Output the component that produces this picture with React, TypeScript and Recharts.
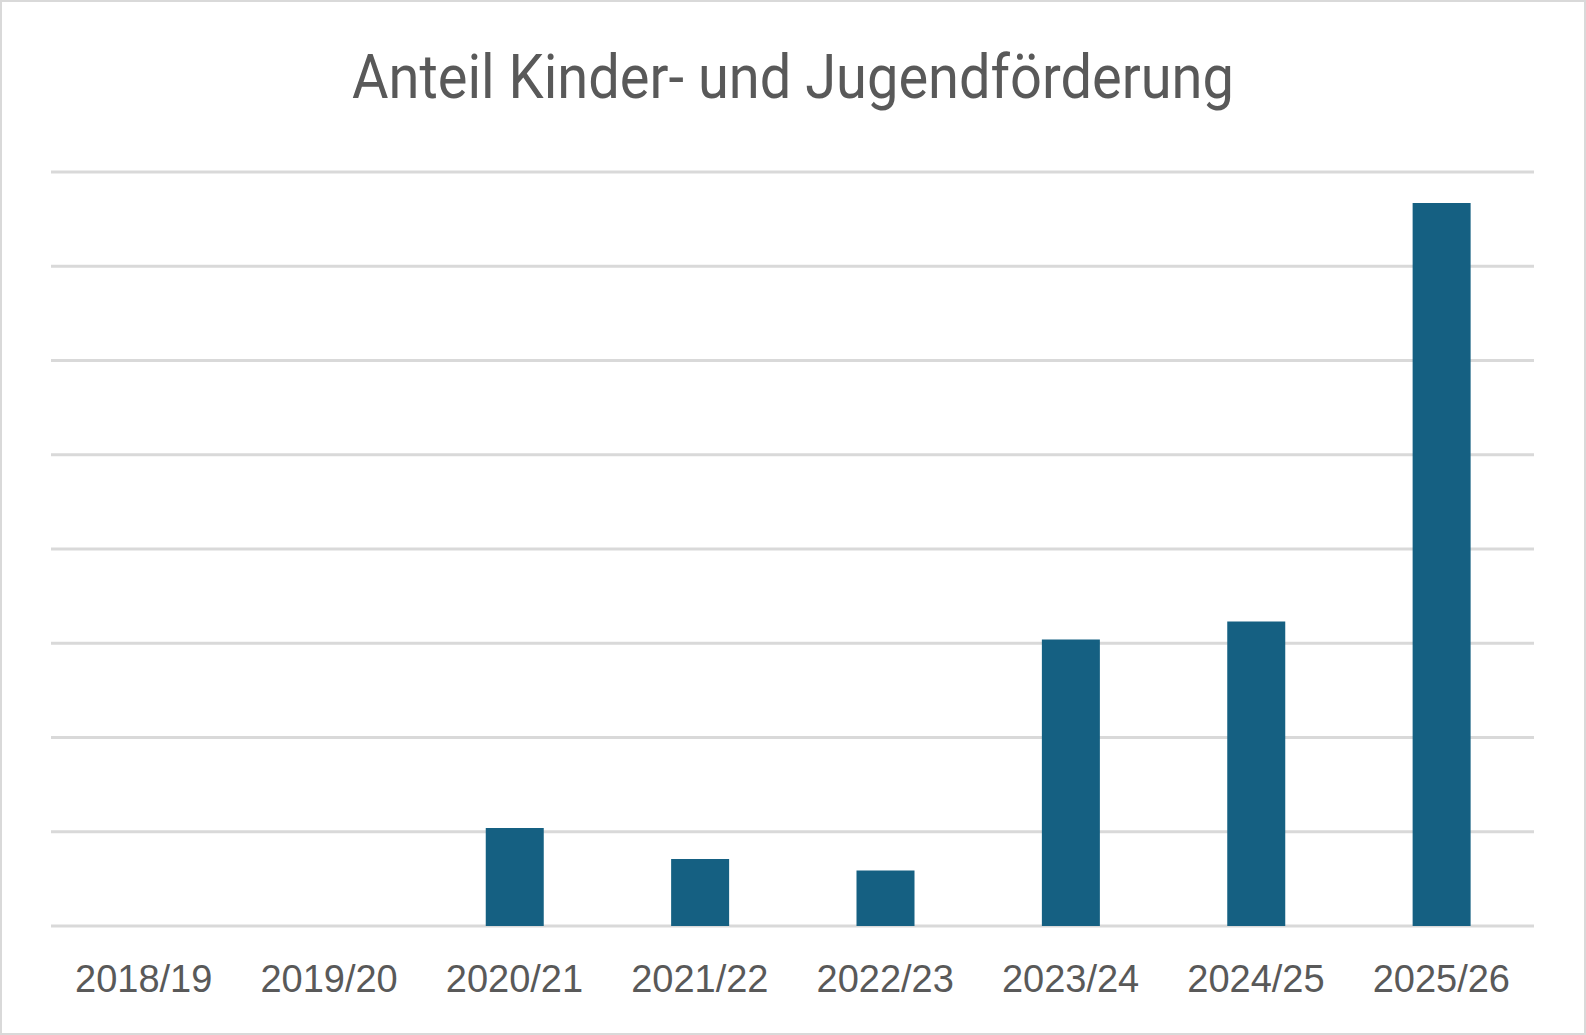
import { BarChart, Bar, XAxis, YAxis, CartesianGrid } from "recharts";

const TITLE = "Anteil Kinder- und Jugendförderung";

const YEARS = [
  "2018/19",
  "2019/20",
  "2020/21",
  "2021/22",
  "2022/23",
  "2023/24",
  "2024/25",
  "2025/26",
];

const SHARE = [0, 0, 1.04, 0.71, 0.59, 3.04, 3.23, 7.67];

const GRID_TICKS = [0, 1, 2, 3, 4, 5, 6, 7, 8];

const data = YEARS.map((year, i) => ({ year, value: SHARE[i] }));

const W = 1586;
const H = 1035;

export default function App() {
  return (
    <div style={{ position: "absolute", left: 0, top: 0, width: W, height: H, background: "#fff" }}>
      <svg width={W} height={120} style={{ position: "absolute", left: 0, top: 0 }}>
        <text
          x={793}
          y={98}
          textAnchor="middle"
          textLength={882}
          lengthAdjust="spacingAndGlyphs"
          fontFamily="Roboto, 'Liberation Sans', sans-serif"
          fontWeight={400}
          fontSize={62}
          fill="#595959"
        >
          {TITLE}
        </text>
      </svg>
      <div style={{ position: "absolute", left: 0, top: 0 }}>
        <BarChart
          width={W}
          height={H}
          data={data}
          margin={{ top: 172, right: 52, bottom: 49, left: 51 }}
        >
          <CartesianGrid vertical={false} stroke="#d9d9d9" strokeWidth={2.8} />
          <YAxis hide domain={[0, 8]} ticks={GRID_TICKS} />
          <XAxis
            dataKey="year"
            height={60}
            axisLine={false}
            tickLine={false}
            tickSize={0}
            tickMargin={39}
            interval={0}
            tick={{ fontSize: 38, fill: "#595959", fontFamily: "'Liberation Sans', Arial, sans-serif" }}
          />
          <Bar dataKey="value" fill="#156082" barSize={58} isAnimationActive={false} />
        </BarChart>
      </div>
      <div
        style={{
          position: "absolute",
          left: 0,
          top: 0,
          width: W,
          height: H,
          boxSizing: "border-box",
          border: "2px solid #d9d9d9",
          pointerEvents: "none",
        }}
      />
    </div>
  );
}
